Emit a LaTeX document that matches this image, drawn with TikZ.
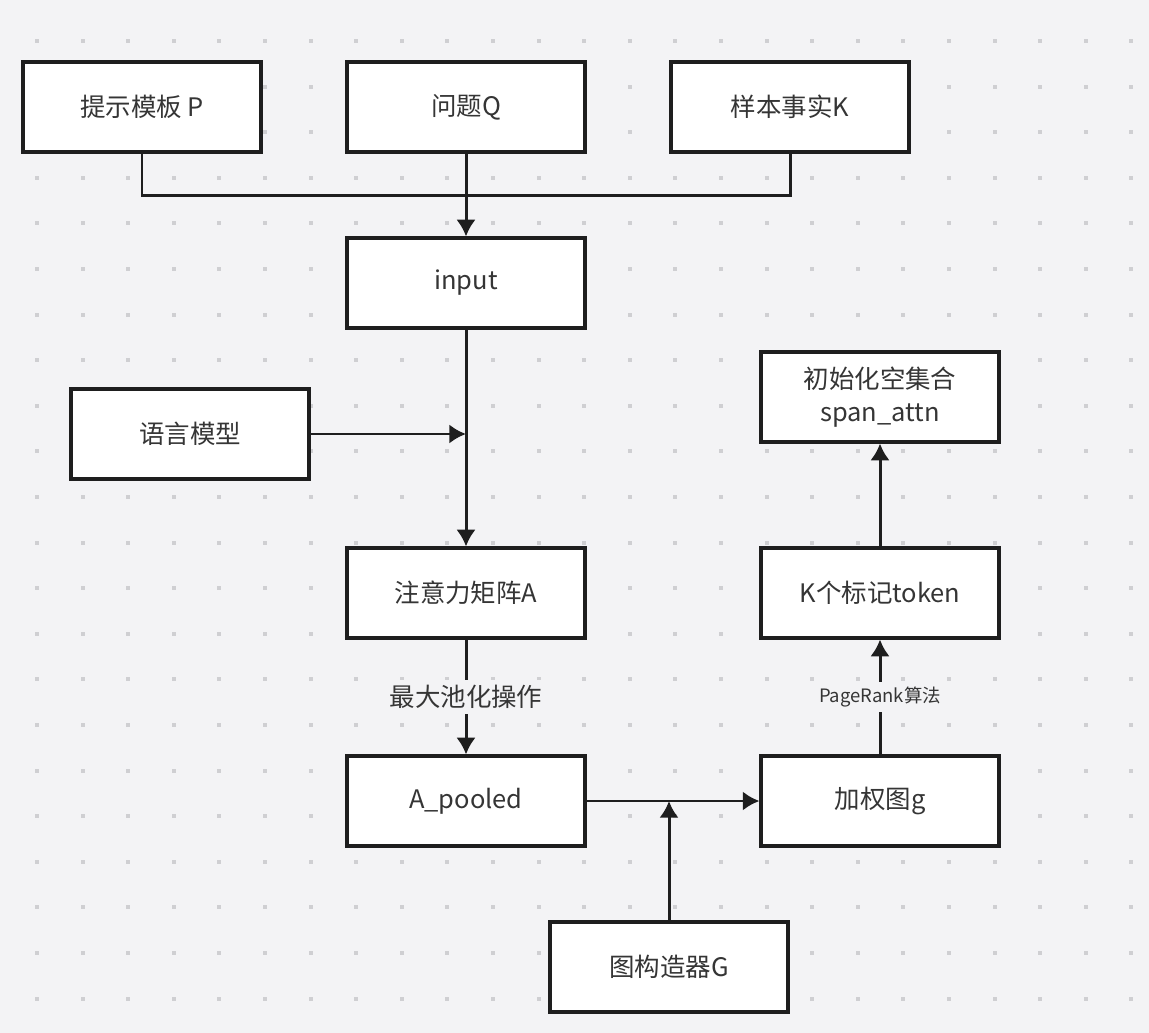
\documentclass[tikz,border=0pt]{standalone}
\usepackage{fontspec}
\setmainfont{Noto Sans CJK SC}
\usetikzlibrary{arrows.meta,positioning}
\definecolor{fondo}{HTML}{F3F3F5}
\definecolor{punto}{HTML}{CFCFD2}
\definecolor{tinta}{HTML}{1E1E1E}

\begin{document}
\begin{tikzpicture}[x=0.02cm,y=-0.02cm,>={Latex[length=9.5pt,width=11pt]},line cap=butt,
  caja/.style={draw=tinta,line width=1.8pt,fill=white,minimum width=4.76cm,
               minimum height=1.8cm,inner sep=0pt,align=center,font=\fontsize{14.5}{19}\selectfont,
               text=tinta!90},
  enlace/.style={draw=tinta,line width=1.7pt},
  flujo/.style={enlace,->},
  etiq/.style={fill=fondo,inner sep=3pt,text=tinta!90,font=\fontsize{14.5}{17}\selectfont},
  etiqp/.style={etiq,font=\fontsize{10.5}{13}\selectfont}]
  % --- fondo con rejilla de puntos ---
  \fill[fondo] (0,0) rectangle (1149,1033);
  \useasboundingbox (0,0) rectangle (1149,1033);
  \foreach \i in {0,...,24}
    \foreach \j in {0,...,21}
      \fill[punto] (37+45.6*\i-2,41+45.6*\j-2) rectangle ++(4,4);
  % --- entradas ---
  \node[caja] (plantilla) at (142,107) {提示模板 P};
  \node[caja] (pregunta)  at (466,107) {问题Q};
  \node[caja] (hechos)    at (790,107) {样本事实K};
  \node[caja] (entrada)   at (466,283) {input};
  \node[caja] (modelo)    at (190,434) {语言模型};
  \node[caja] (atencion)  at (466,593) {注意力矩阵A};
  \node[caja] (agrupado)  at (466,801) {A\_pooled};
  \node[caja] (constructor) at (669,967) {图构造器G};
  % --- columna derecha ---
  \node[caja] (grafo)     at (880,801) {加权图g};
  \node[caja] (marcas)    at (880,593) {K个标记token};
  \node[caja] (conjunto)  at (880,397) {初始化空集合\\span\_attn};
  % --- conexiones ---
  \draw[enlace] (plantilla.south) -- ++(0,42) -| (hechos.south);
  \draw[flujo] (pregunta.south) -- (entrada.north);
  \draw[flujo] (entrada.south) -- (atencion.north);
  \draw[flujo] (modelo.east) -- (modelo.east -| entrada.south);
  \draw[flujo] (atencion.south) -- node[etiq]{最大池化操作} (agrupado.north);
  \draw[flujo] (agrupado.east) -- (grafo.west);
  \draw[flujo] (constructor.north) -- (constructor.north |- agrupado.east);
  \draw[flujo] (grafo.north) -- node[etiqp]{PageRank算法} (marcas.south);
  \draw[flujo] (marcas.north) -- (conjunto.south);
\end{tikzpicture}
\end{document}
